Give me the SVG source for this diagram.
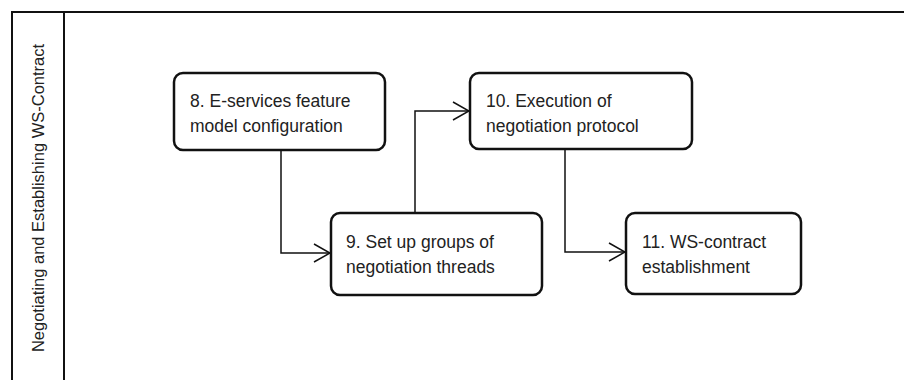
<svg xmlns="http://www.w3.org/2000/svg" width="904" height="380" viewBox="0 0 904 380">
  <style>
    .lane { fill: none; stroke: #111; stroke-width: 2; }
    .box { fill: #fff; stroke: #111; stroke-width: 2.5; }
    .label { font-family: "Liberation Sans", Arial, sans-serif; font-size: 17.5px; fill: #222; }
    .lane-title { font-family: "Liberation Sans", Arial, sans-serif; font-size: 16.5px; fill: #222; }
    .edge { fill: none; stroke: #111; stroke-width: 1.5; marker-end: url(#open); }
  </style>
  <defs>
    <marker id="open" viewBox="0 0 18 20" refX="17" refY="10" markerWidth="18" markerHeight="20" markerUnits="userSpaceOnUse" orient="auto">
      <path d="M1,1 L17,10 L1,19" fill="none" stroke="#111" stroke-width="1.5"/>
    </marker>
  </defs>

  <rect width="904" height="380" fill="#fff"/>

  <!-- swimlane frame -->
  <g id="lane">
    <path class="lane" d="M12,381 V12 H905"/>
    <path class="lane" d="M64,12 V381"/>
    <text class="lane-title" transform="translate(44,198) rotate(-90)" text-anchor="middle">Negotiating and Establishing WS-Contract</text>
  </g>

  <!-- connectors -->
  <g id="connectors">
    <path class="edge" d="M281,151 V253 H330"/>
    <path class="edge" d="M415,212 V111 H469"/>
    <path class="edge" d="M565,150 V252 H625"/>
  </g>

  <g id="n8">
    <rect class="box" x="174" y="73" width="211" height="77" rx="9"/>
    <text class="label" x="190" y="107">8. E-services feature</text>
    <text class="label" x="190" y="132">model configuration</text>
  </g>

  <g id="n9">
    <rect class="box" x="331" y="213" width="211" height="82" rx="9"/>
    <text class="label" x="346" y="248">9. Set up groups of</text>
    <text class="label" x="346" y="273">negotiation threads</text>
  </g>

  <g id="n10">
    <rect class="box" x="470" y="73" width="222" height="76" rx="9"/>
    <text class="label" x="486" y="107">10. Execution of</text>
    <text class="label" x="486" y="132">negotiation protocol</text>
  </g>

  <g id="n11">
    <rect class="box" x="626" y="213" width="175" height="81" rx="9"/>
    <text class="label" x="642" y="248">11. WS-contract</text>
    <text class="label" x="642" y="273">establishment</text>
  </g>
</svg>
